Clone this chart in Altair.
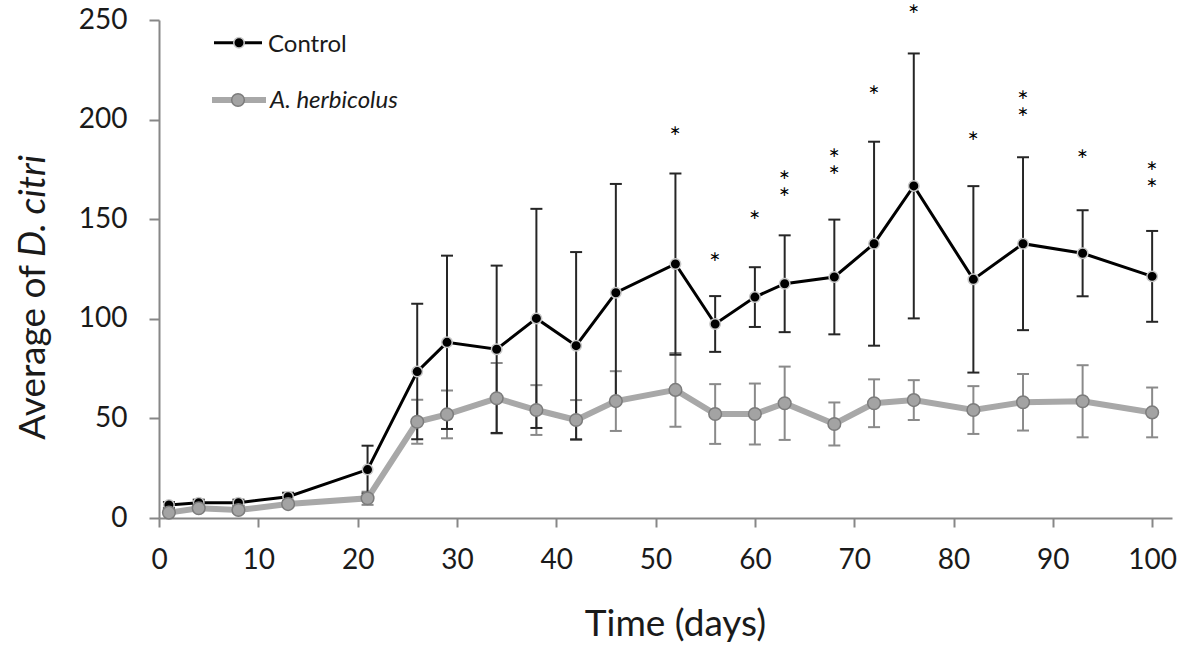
import altair as alt
import pandas as pd

# ---------------- data ----------------
days = [1, 4, 8, 13, 21, 26, 29, 34, 38, 42, 46, 52, 56, 60, 63, 68, 72, 76, 82, 87, 93, 100]

control_mean = [6.5, 7.7, 7.7, 10.7, 24.3, 73.5, 88.2, 84.7, 100.2, 86.5, 113.1, 127.5,
                97.4, 110.9, 117.6, 121.0, 137.7, 166.7, 119.8, 137.7, 132.9, 121.3]
control_sd = [1.5, 1.5, 1.5, 2.0, 12.0, 34.0, 43.5, 42.0, 55.0, 47.0, 54.6, 45.5,
              14.0, 15.0, 24.3, 28.8, 51.2, 66.5, 46.8, 43.4, 21.6, 22.8]

herb_mean = [2.7, 4.9, 4.0, 7.0, 9.9, 48.3, 52.0, 60.1, 54.2, 49.2, 58.7, 64.3,
             52.2, 52.2, 57.6, 47.2, 57.6, 59.2, 54.2, 58.1, 58.6, 53.0]
herb_sd = [1.0, 1.5, 1.5, 1.5, 3.3, 11.0, 12.0, 17.7, 12.5, 10.0, 15.0, 18.5,
           15.0, 15.3, 18.4, 10.8, 12.0, 10.0, 12.0, 14.2, 18.1, 12.5]

# significance asterisks: day and height of each asterisk
star_days = [52, 56, 60, 63, 63, 68, 68, 72, 76, 82, 87, 87, 93, 100, 100]
star_vals = [194.4, 131.2, 152.0, 172.3, 163.8, 183.2, 174.6, 214.9, 255.5,
             191.8, 212.2, 203.6, 182.7, 176.9, 168.3]

x_ticks = [0, 10, 20, 30, 40, 50, 60, 70, 80, 90, 100]
y_ticks = [0, 50, 100, 150, 200, 250]

# ---------------- tables ----------------
ctrl = pd.DataFrame({"day": days, "mean": control_mean, "sd": control_sd})
ctrl["lo"] = ctrl["mean"] - ctrl["sd"]
ctrl["hi"] = ctrl["mean"] + ctrl["sd"]

herb = pd.DataFrame({"day": days, "mean": herb_mean, "sd": herb_sd})
herb["lo"] = herb["mean"] - herb["sd"]
herb["hi"] = herb["mean"] + herb["sd"]

stars = pd.DataFrame({"day": star_days, "val": star_vals})

FONT = "Lato"
TXT = "#1a1a1a"

x_scale = alt.Scale(domain=[0, 102], nice=False, zero=False)
y_scale = alt.Scale(domain=[0, 250], nice=False)
x_axis = alt.Axis(values=x_ticks, title="Time (days)", tickSize=9, labelPadding=19,
                  labelFlush=False, titleX=516, titleY=117, titleAlign="center",
                  titleBaseline="alphabetic")
y_axis = alt.Axis(values=y_ticks, title=None, tickSize=10, labelPadding=22)


def X(field="day"):
    return alt.X(f"{field}:Q", scale=x_scale, axis=x_axis)


def Y(field):
    return alt.Y(f"{field}:Q", scale=y_scale, axis=y_axis)


def errorbars(df, color, width):
    rule = alt.Chart(df).mark_rule(color=color, strokeWidth=width).encode(
        x=X(), y=Y("lo"), y2="hi")
    cap_lo = alt.Chart(df).mark_tick(color=color, orient="horizontal", size=12,
                                     thickness=width, opacity=1).encode(x=X(), y=Y("lo"))
    cap_hi = alt.Chart(df).mark_tick(color=color, orient="horizontal", size=12,
                                     thickness=width, opacity=1).encode(x=X(), y=Y("hi"))
    return [rule, cap_lo, cap_hi]


herb_err = errorbars(herb, "#8a8a8a", 2)
ctrl_err = errorbars(ctrl, "#262626", 2)

ctrl_line = alt.Chart(ctrl).mark_line(color="black", strokeWidth=3).encode(x=X(), y=Y("mean"))
ctrl_pts = alt.Chart(ctrl).mark_point(shape="circle", filled=True, fill="black", stroke="#c8c8c8",
                                      strokeWidth=1.5, size=110, opacity=1).encode(x=X(), y=Y("mean"))
herb_line = alt.Chart(herb).mark_line(color="#a8a8a8", strokeWidth=6).encode(x=X(), y=Y("mean"))
herb_pts = alt.Chart(herb).mark_point(shape="circle", filled=True, fill="#a3a3a3", stroke="#7c7c7c",
                                      strokeWidth=1.5, size=160, opacity=1).encode(x=X(), y=Y("mean"))

star_txt = alt.Chart(stars).mark_text(text="\u2217", font="DejaVu Sans", fontSize=14,
                                      color="black", baseline="middle").encode(x=X(), y=Y("val"))

one = pd.DataFrame({"a": [0]})

# legend (drawn by hand to get line + marker symbols)
leg = [
    alt.Chart(one).mark_rule(color="black", strokeWidth=3).encode(
        x=alt.value(55), x2=alt.value(103), y=alt.value(22.7)),
    alt.Chart(one).mark_point(shape="circle", filled=True, fill="black", stroke="#c8c8c8",
                              strokeWidth=1.5, size=110, opacity=1).encode(
        x=alt.value(80), y=alt.value(22.7)),
    alt.Chart(one).mark_text(text="Control", font=FONT, fontSize=24, color=TXT,
                             align="left", baseline="middle").encode(
        x=alt.value(109), y=alt.value(25)),
    alt.Chart(one).mark_rule(color="#a8a8a8", strokeWidth=6).encode(
        x=alt.value(53), x2=alt.value(107), y=alt.value(80)),
    alt.Chart(one).mark_point(shape="circle", filled=True, fill="#a3a3a3", stroke="#7c7c7c",
                              strokeWidth=1.5, size=160, opacity=1).encode(
        x=alt.value(79), y=alt.value(80)),
    alt.Chart(one).mark_text(text="A. herbicolus", font=FONT, fontSize=24, fontStyle="italic",
                             color=TXT, align="left", baseline="middle").encode(
        x=alt.value(111), y=alt.value(81)),
]

# y-axis title with italic species name
ytitle = [
    alt.Chart(one).mark_text(text="Average of", font=FONT, fontSize=37, color=TXT, angle=270,
                             align="right", baseline="alphabetic").encode(
        x=alt.value(-114), y=alt.value(245)),
    alt.Chart(one).mark_text(text="D. citri", font=FONT, fontSize=37, fontStyle="italic",
                             color=TXT, angle=270, align="left", baseline="alphabetic").encode(
        x=alt.value(-114), y=alt.value(237)),
]

chart = alt.layer(
    *herb_err, *ctrl_err, ctrl_line, ctrl_pts, herb_line, herb_pts, star_txt, *leg, *ytitle
).properties(
    width=1013, height=498,
    autosize=alt.AutoSizeParams(type="none"),
    padding={"left": 159, "top": 20, "right": 18, "bottom": 131},
).configure_view(strokeWidth=0).configure_axis(
    domainColor="#878787", domainWidth=2, tickColor="#878787", tickWidth=2, grid=False,
    labelFont=FONT, labelFontSize=28, labelColor=TXT,
    titleFont=FONT, titleFontSize=37, titleFontWeight="normal", titleColor=TXT,
)

chart.save("out.html", embed_options={"renderer": "svg", "actions": False})
